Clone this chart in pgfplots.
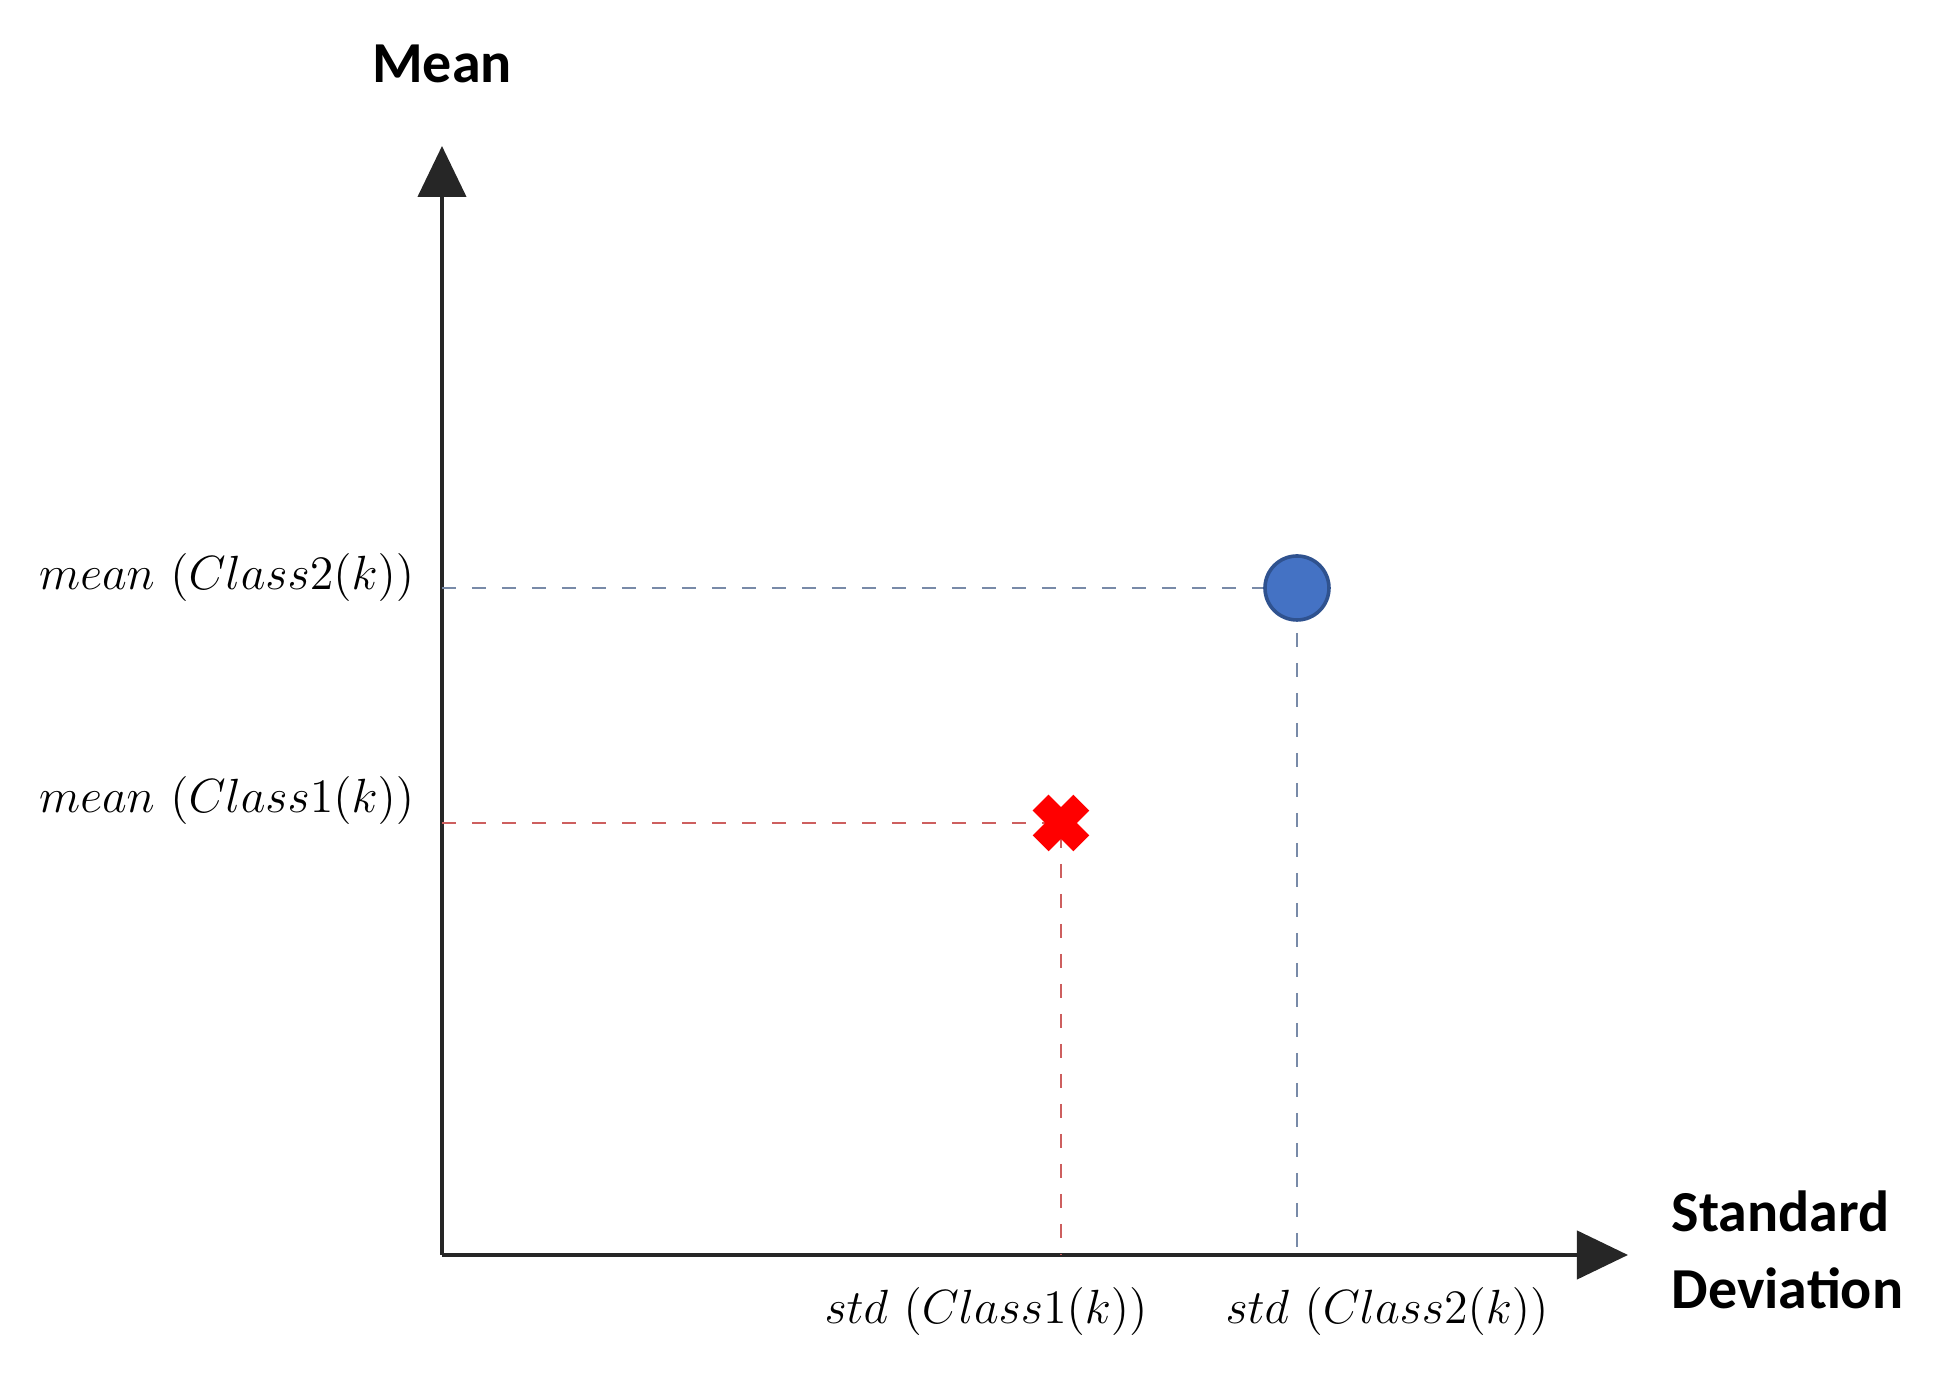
\documentclass[border=0pt]{standalone}
\usepackage{fontspec}
\usepackage{pgfplots}
\pgfplotsset{compat=1.18}
\usetikzlibrary{arrows.meta}
\newfontfamily\lab{Carlito}
\definecolor{bluedash}{RGB}{120,138,168}
\definecolor{reddash}{RGB}{205,95,95}
\definecolor{ptblue}{RGB}{68,114,196}
\definecolor{ptblueedge}{RGB}{47,82,143}
\begin{document}
\begin{tikzpicture}
\begin{axis}[
  at={(0,0)}, anchor=south west,
  scale only axis,
  width=296.5pt, height=277.25pt,
  xmin=0, xmax=11.86, ymin=0, ymax=11.09,
  axis lines=left,
  axis line style={black!85, line width=1.1pt, -{Triangle[length=12.75pt,width=12pt]}},
  xtick=\empty, ytick=\empty,
  clip=false,
]
% class 2 guide lines
\addplot[bluedash, line width=0.7pt, dash pattern=on 3.5pt off 4pt] coordinates {(0,6.67) (8.55,6.67) (8.55,0)};
% class 1 guide lines
\addplot[reddash, line width=0.7pt, dash pattern=on 3.5pt off 4pt] coordinates {(0,4.32) (6.19,4.32) (6.19,0)};
% points
\addplot[only marks, mark=*, mark size=8pt, mark options={fill=ptblue, draw=ptblueedge, line width=0.9pt}] coordinates {(8.55,6.67)};
\addplot[only marks, mark=x, mark size=7.2pt, mark options={draw=red, line width=5.6pt}] coordinates {(6.19,4.32)};
% labels
\node[anchor=east, inner sep=0pt, font=\fontsize{12}{14}\selectfont] at (axis cs:-0.27,6.77) {$mean\ (Class2(k))$};
\node[anchor=east, inner sep=0pt, font=\fontsize{12}{14}\selectfont] at (axis cs:-0.27,4.54) {$mean\ (Class1(k))$};
\node[inner sep=0pt, font=\fontsize{12}{14}\selectfont] at (axis cs:5.44,-0.57) {$std\ (Class1(k))$};
\node[inner sep=0pt, font=\fontsize{12}{14}\selectfont] at (axis cs:9.45,-0.57) {$std\ (Class2(k))$};
\node[inner sep=0pt, font=\lab\bfseries\fontsize{14.5}{19.25}\selectfont] at (axis cs:0,11.91) {Mean};
\node[anchor=west, align=left, inner sep=0pt, font=\lab\bfseries\fontsize{14.5}{19.25}\selectfont] at (axis cs:12.29,0.05) {Standard\\Deviation};
\end{axis}
\pgfresetboundingbox
\useasboundingbox (-110.5pt,-34pt) rectangle (374.75pt,313.75pt);
\end{tikzpicture}
\end{document}
